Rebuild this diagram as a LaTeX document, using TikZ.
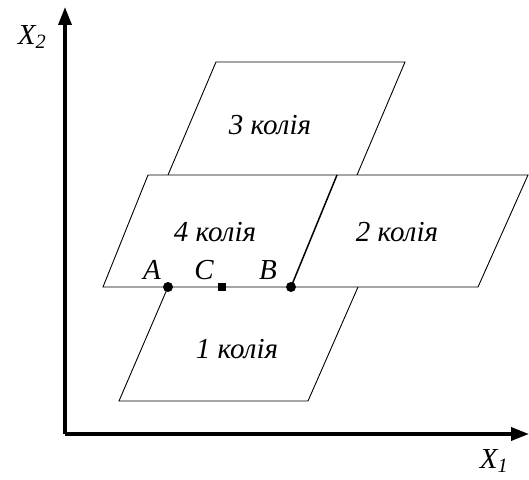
\documentclass[tikz,border=0pt]{standalone}
\usepackage{fontspec}
\setmainfont{Liberation Serif}
\usetikzlibrary{arrows.meta}
\begin{document}
\begin{tikzpicture}[x=1pt,y=1pt,
  axis/.style={line width=3.5pt,-{Triangle[length=18pt,width=13pt]}},
  plate/.style={line width=0.9pt},
  lbl/.style={font=\fontsize{29}{32}\selectfont\itshape,inner sep=0pt},
  pt/.style={circle,fill=black,inner sep=0pt,minimum size=10pt},
  sq/.style={rectangle,fill=black,inner sep=0pt,minimum size=8.5pt}]
\useasboundingbox (0,0) rectangle (529,479);
% axes
\coordinate (O) at (65,45);
\coordinate (Ytip) at (65,472);
\coordinate (Xtip) at (529,45);
\draw[axis] (O) -- (Ytip);
\draw[axis] (O) -- (Xtip);
% parallelogram 3
\coordinate (a1) at (216,417); \coordinate (a2) at (405,417);
\coordinate (a3) at (357,304); \coordinate (a4) at (168,304);
\draw[plate] (a4) -- (a1) -- (a2) -- (a3);
% parallelograms 4 and 2
\coordinate (b1) at (148,304); \coordinate (b2) at (528,304);
\coordinate (b3) at (478,192); \coordinate (b4) at (103,192);
\coordinate (m1) at (337,304);
\draw[plate] (b1) -- (b2) -- (b3) -- (b4) -- cycle;
% parallelogram 1
\coordinate (c1) at (358,192); \coordinate (c2) at (308,78);
\coordinate (c3) at (119,78);
% points
\node[pt] (A) at (168,192) {};
\node[sq] (C) at (222,192) {};
\node[pt] (B) at (291,192) {};
\draw[plate] (c1) -- (c2) -- (c3) -- (A.center);
\draw[line width=1.5pt] (B.center) -- (m1);
% labels
\node[lbl] (t3) at (270,354) {3 колія};
\node[lbl] (t4) at (215,247) {4 колія};
\node[lbl] (t2) at (397,247) {2 колія};
\node[lbl] (t1) at (237,130) {1 колія};
\node[lbl] (lA) at (152,209) {A};
\node[lbl] (lC) at (204,209) {C};
\node[lbl] (lB) at (268,209) {B};
\node[lbl] (x2) at (32,442) {X\textsubscript{2}};
\node[lbl] (x1) at (494,18) {X\textsubscript{1}};
\end{tikzpicture}
\end{document}
